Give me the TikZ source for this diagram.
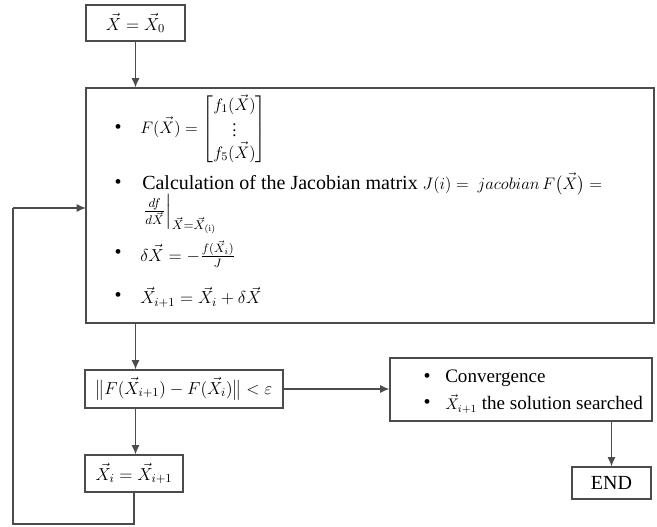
\RequirePackage{fix-cm}
\documentclass[tikz,border=0pt]{standalone}
\usepackage{amsmath}
\usepackage{fontspec}
\setmainfont{Liberation Serif}
\usetikzlibrary{arrows.meta}
\begin{document}
\begin{tikzpicture}[x=0.75pt,y=-0.75pt,
  box/.style={draw=black!70, line width=0.9pt, rectangle, inner sep=0pt, fill=white},
  conn/.style={draw=black!70, line width=0.9pt, -{Latex[length=7pt,width=6pt]}},
  line/.style={draw=black!70, line width=0.9pt},
  txt/.style={anchor=west, inner sep=0pt},
  bul/.style={inner sep=0pt},
  big/.style={font=\fontsize{15}{18}\selectfont},
  mid/.style={font=\fontsize{14.3}{17}\selectfont},
  font=\fontsize{13.5}{16}\selectfont]
\useasboundingbox (0,0) rectangle (657,527);
% boxes
\node[box, minimum width=99*0.75pt, minimum height=36*0.75pt] (init) at (135.5,23) {\fontsize{13}{15}\selectfont$\vec X = \vec X_0$};
\node[box, minimum width=568*0.75pt, minimum height=235*0.75pt] (iter) at (370,205.5) {};
\node[box, minimum width=198*0.75pt, minimum height=38*0.75pt] (cond) at (184,389) {\fontsize{13}{16}\selectfont$\bigl\| F(\vec X_{i+1}) - F(\vec X_i)\bigr\| < \varepsilon$};
\node[box, minimum width=98*0.75pt, minimum height=37*0.75pt] (upd) at (134,473.5) {\fontsize{13}{15}\selectfont$\vec X_i = \vec X_{i+1}$};
\node[box, minimum width=262*0.75pt, minimum height=63*0.75pt] (conv) at (521,389.5) {};
\node[box, big, minimum width=79*0.75pt, minimum height=32*0.75pt] (end) at (611.5,483) {END};
% content of iteration box
\node[bul, big] (b1) at (118,129) {\textbullet};
\node[txt, font=\fontsize{12.5}{14}\selectfont] (t1) at (140,129) {$F(\vec X) = \begin{bmatrix} f_1(\vec X)\\ \vdots \\ f_5(\vec X)\end{bmatrix}$};
\node[bul, big] (b2) at (118,184) {\textbullet};
\node[txt, big] (t2) at (142,184) {Calculation of the Jacobian matrix {\fontsize{12.5}{15}\selectfont$J(i) = \ jacobian\, F\big(\vec X\big) =$}};
\node[txt] (t2b) at (142,214) {$\left.\tfrac{df}{d\vec X}\right|_{\vec X = \vec X_{(\mathrm{i})}}$};
\node[bul, big] (b3) at (118,254) {\textbullet};
\node[txt, font=\fontsize{13}{15}\selectfont] (t3) at (140,254) {$\delta\vec X = -\tfrac{f(\vec X_i)}{J}$};
\node[bul, big] (b4) at (118,297) {\textbullet};
\node[txt, font=\fontsize{13}{15}\selectfont] (t4) at (140,297) {$\vec X_{i+1} = \vec X_i + \delta\vec X$};
% content of convergence box
\node[bul, big] (c1) at (427,378) {\textbullet};
\node[txt, mid] (ct1) at (445,378) {Convergence};
\node[bul, big] (c2) at (427,404) {\textbullet};
\node[txt, mid] (ct2) at (445,404) {{\fontsize{11.5}{14}\selectfont$\vec X_{i+1}$} the solution searched};
% connectors
\coordinate (lp1) at (134,524);
\coordinate (lp2) at (13,524);
\coordinate (lp3) at (13,208);
\coordinate (lp4) at (86,208);
\draw[conn] (init) -- (init |- iter.north);
\draw[conn] (iter.south -| init) -- (cond.north -| init);
\draw[conn] (cond.south -| init) -- (upd.north -| init);
\draw[conn] (cond.east) -- (conv.west |- cond.east);
\draw[conn] (conv.south -| end) -- (end.north);
\draw[line] (upd.south) -- (lp1) -- (lp2) -- (lp3);
\draw[conn] (lp3) -- (lp4);
\end{tikzpicture}
\end{document}
